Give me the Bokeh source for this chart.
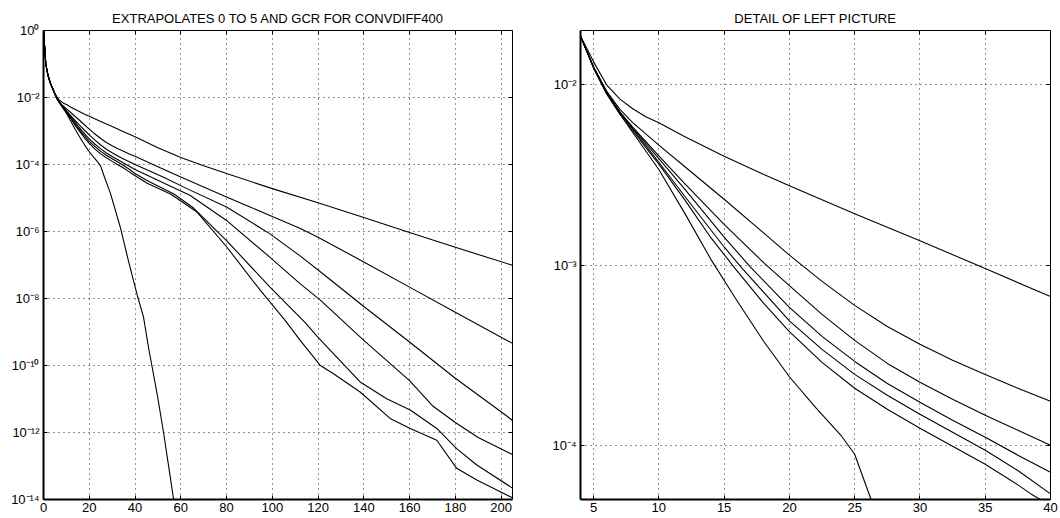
from bokeh.plotting import figure
from bokeh.models import (FixedTicker, CustomJSTickFormatter, LinearAxis, LogAxis,
                          Range1d, Row)
from bokeh.embed import file_html
from bokeh.resources import INLINE

FONT = "Liberation Sans"

# ---- data: iteration number and log10 of the residual ----
a_x = [0, 1, 2, 3, 4, 5, 6, 7, 8, 9, 10, 12, 15, 18, 20, 25, 30, 35, 40, 50, 60, 70, 80, 100, 120, 140, 160,
       180, 205]
a_e = [0, -1.0, -1.35, -1.57, -1.73, -1.873, -2.0, -2.078, -2.133, -2.177, -2.211, -2.288, -2.396, -2.497,
       -2.56, -2.715, -2.865, -3.02, -3.175, -3.5, -3.79, -4.04, -4.27, -4.72, -5.14, -5.58, -6.03, -6.47, -7.01]

b_x = [0, 1, 2, 3, 4, 5, 6, 7, 8, 10, 12, 15, 18, 20, 22.5, 25, 27.5, 30, 32.5, 35, 37.5, 40, 50, 60, 70, 80,
       90, 100, 112, 120, 140, 160, 180, 205]
b_e = [0, -1.0, -1.35, -1.57, -1.73, -1.9, -2.035, -2.135, -2.21, -2.335, -2.455, -2.635, -2.82, -2.945, -3.091,
       -3.224, -3.341, -3.44, -3.529, -3.607, -3.684, -3.756, -4.07, -4.37, -4.67, -4.97, -5.26, -5.55, -5.90,
       -6.17, -6.91, -7.66, -8.41, -9.34]

c_x = [0, 1, 2, 3, 4, 5, 6, 7, 8, 10, 12, 15, 18, 20, 22.5, 25, 27.5, 30, 32.5, 35, 37.5, 40, 52.5, 62.7, 80,
       99, 112, 121, 140, 160, 180, 200, 205]
c_e = [0, -1.0, -1.35, -1.57, -1.73, -1.905, -2.045, -2.15, -2.235, -2.395, -2.55, -2.775, -2.985, -3.114, -3.274,
       -3.418, -3.546, -3.651, -3.745, -3.834, -3.917, -4.0, -4.38, -4.72, -5.27, -6.07, -6.72, -7.2, -8.24,
       -9.30, -10.38, -11.38, -11.64]

d_x = [0, 1, 2, 3, 4, 5, 6, 7, 8, 10, 12, 15, 17, 20, 22.5, 25, 27.5, 30, 32.5, 35, 37.5, 40, 52.5, 64, 80,
       99, 112, 121, 140, 160, 170, 180, 190, 205]
d_e = [0, -1.0, -1.35, -1.57, -1.73, -1.905, -2.045, -2.15, -2.24, -2.41, -2.58, -2.845, -3.01, -3.235, -3.396,
       -3.535, -3.657, -3.762, -3.861, -3.956, -4.055, -4.15, -4.55, -4.92, -5.67, -6.77, -7.55, -8.05, -9.25,
       -10.45, -11.2, -11.7, -12.15, -12.66]

e_x = [0, 1, 2, 3, 4, 5, 6, 7, 8, 10, 12, 15, 16.4, 20, 22.5, 25, 27.5, 30, 32.5, 35, 37.5, 40, 45, 57, 65.6,
       80, 99, 114.4, 119.5, 138.4, 150, 160.3, 171.9, 180.6, 189.4, 205]
e_e = [0, -1.0, -1.35, -1.57, -1.73, -1.905, -2.045, -2.15, -2.245, -2.43, -2.62, -2.90, -3.02, -3.31, -3.468,
       -3.607, -3.723, -3.828, -3.928, -4.028, -4.14, -4.27, -4.47, -4.88, -5.30, -6.27, -7.66, -8.72, -9.12,
       -10.49, -10.99, -11.33, -11.88, -12.48, -12.97, -13.66]

f_x = [0, 1, 2, 3, 4, 5, 6, 7, 8, 10, 12, 14, 15.85, 18, 20, 22.5, 25, 27.5, 30, 32.5, 35, 37.5, 38.5, 45.3,
       55.5, 67.1, 80.2, 94.8, 105.7, 112.2, 119.5, 121, 126.6, 138.4, 151.5, 160.3, 171.9, 180.6, 189.4, 205]
f_e = [0, -1.0, -1.35, -1.57, -1.73, -1.905, -2.05, -2.16, -2.255, -2.44, -2.64, -2.85, -3.02, -3.21, -3.37,
       -3.54, -3.684, -3.80, -3.906, -4.006, -4.105, -4.22, -4.27, -4.56, -4.88, -5.42, -6.47, -7.76, -8.66,
       -9.25, -9.87, -10.0, -10.24, -10.79, -11.58, -11.88, -12.23, -13.07, -13.42, -13.95]

gcr_x = [0, 1, 2, 3, 4, 5, 6, 7, 8, 10, 12, 14, 16, 18, 20, 22, 24, 25, 26.2, 29.3, 33.6, 37.1, 41, 43.7, 46,
         49.8, 52.4, 55.5, 57.5]
gcr_e = [0, -1.0, -1.35, -1.57, -1.73, -1.905, -2.05, -2.16, -2.265, -2.47, -2.715, -2.97, -3.2, -3.42, -3.62,
         -3.79, -3.95, -4.05, -4.29, -4.87, -5.88, -6.87, -7.91, -8.55, -9.5, -10.9, -11.97, -13.37, -14.3]

# ---- ticks / labels ----
left_xticks = [0, 20, 40, 60, 80, 100, 120, 140, 160, 180, 200]
left_yticks = [1e-14, 1e-12, 1e-10, 1e-8, 1e-6, 1e-4, 1e-2, 1e0]
left_ylabels = ["10\u207b\u00b9\u2074", "10\u207b\u00b9\u00b2", "10\u207b\u00b9\u2070", "10\u207b\u2078",
                "10\u207b\u2076", "10\u207b\u2074", "10\u207b\u00b2", "10\u2070"]
right_xticks = [5, 10, 15, 20, 25, 30, 35, 40]
right_yticks = [1e-4, 1e-3, 1e-2]
right_ylabels = ["10\u207b\u2074", "10\u207b\u00b3", "10\u207b\u00b2"]

left_title = "EXTRAPOLATES 0 TO 5 AND GCR FOR CONVDIFF400"
right_title = "DETAIL OF LEFT PICTURE"

series = [(a_x, a_e), (b_x, b_e), (c_x, c_e), (d_x, d_e), (e_x, e_e), (f_x, f_e), (gcr_x, gcr_e)]

LOG_CODE = """
let best = 0, bd = Infinity;
for (let i = 0; i < vals.length; i++) {
  const d = Math.abs(Math.log10(tick) - Math.log10(vals[i]));
  if (d < bd) { bd = d; best = i; }
}
return labels[best];
"""


def style_axis(ax, width):
    ax.axis_line_color = "black"
    ax.axis_line_width = width
    ax.major_tick_in = 4
    ax.major_tick_out = 0
    ax.minor_tick_in = 0
    ax.minor_tick_out = 0
    ax.major_tick_line_color = "black"
    ax.major_label_text_font = FONT
    ax.major_label_text_font_size = "13px"
    ax.major_label_text_color = "black"


def make_fig(w, h, xr, yr, xt, yt, ylab, title, bl, br):
    p = figure(width=w, height=h, x_range=Range1d(*xr), y_range=Range1d(*yr), y_axis_type="log",
               output_backend="svg", toolbar_location=None,
               min_border_left=bl, min_border_right=br, min_border_top=30, min_border_bottom=19,
               background_fill_color="white", border_fill_color="white", outline_line_color=None)
    p.title.text = title
    p.title.text_font = FONT
    p.title.text_font_size = "13px"
    p.title.text_font_style = "normal"
    p.title.text_color = "black"
    p.title.align = "center"
    p.title.standoff = 10

    xtk = FixedTicker(ticks=xt)
    ytk = FixedTicker(ticks=yt)
    p.xaxis.ticker = xtk
    p.yaxis.ticker = ytk
    p.xgrid.ticker = xtk
    p.ygrid.ticker = ytk
    p.yaxis.formatter = CustomJSTickFormatter(args=dict(vals=yt, labels=ylab), code=LOG_CODE)
    for ax in p.xaxis:
        style_axis(ax, 2)
        ax.major_label_standoff = 3
    for ax in p.yaxis:
        style_axis(ax, 2)
        ax.major_label_standoff = 4

    for g in (p.xgrid[0], p.ygrid[0]):
        g.grid_line_color = "black"
        g.grid_line_width = 1
        g.grid_line_dash = "1 4"
        g.grid_line_alpha = 0.85

    blank = "return '';"
    top = LinearAxis(ticker=xtk, formatter=CustomJSTickFormatter(code=blank))
    style_axis(top, 1)
    top.major_label_standoff = 0
    top.major_label_text_font_size = "0px"
    p.add_layout(top, "above")
    right = LogAxis(ticker=ytk, formatter=CustomJSTickFormatter(code=blank))
    style_axis(right, 1)
    right.major_label_standoff = 0
    right.major_label_text_font_size = "0px"
    p.add_layout(right, "right")

    for xs, es in series:
        p.line(xs, [10 ** e for e in es], line_color="black", line_width=1.1, line_join="round")
    return p


p1 = make_fig(546, 518, (0, 205), (1e-14, 1e0), left_xticks, left_yticks, left_ylabels, left_title, 43, 34)
p2 = make_fig(514, 518, (4, 40), (5e-5, 2e-2), right_xticks, right_yticks, right_ylabels, right_title, 34, 10)

layout = Row(children=[p1, p2])

open("out.html", "w").write(file_html(layout, INLINE))
